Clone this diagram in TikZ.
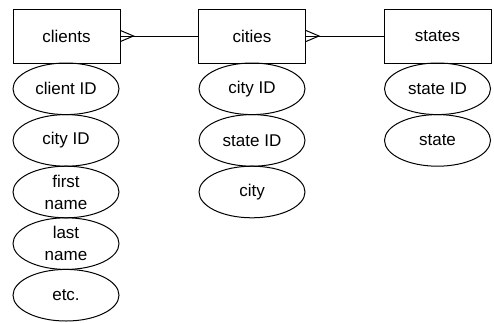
\documentclass[tikz,border=0pt]{standalone}
\usepackage{fontspec}
\setmainfont{Liberation Sans}
\usetikzlibrary{shapes.geometric}
\begin{document}
\begin{tikzpicture}[x=1pt,y=-1pt, line width=1pt,
 entity/.style={draw, minimum width=107pt, minimum height=54pt, inner sep=0pt, font=\fontsize{17}{22}\selectfont},
 attr/.style={draw, ellipse, minimum width=106pt, minimum height=51.6pt, inner sep=0pt, align=center, font=\fontsize{17}{22}\selectfont},
 link/.style={draw, line width=1pt}]
\useasboundingbox (0,0) rectangle (494,322);
% entities
\node[entity] (clients) at (66.5,36) {clients};
\node[entity] (cities) at (252,36) {cities};
\node[entity] (states) at (437.5,36) {states};
% clients attributes
\node[attr] (cl1) at (66,88.8) {client ID};
\node[attr] (cl2) at (66,140.4) {city ID};
\node[attr] (cl3) at (66,192) {first\\name};
\node[attr] (cl4) at (66,243.6) {last\\name};
\node[attr] (cl5) at (66,295.2) {etc.};
% cities attributes
\node[attr] (ci1) at (252,88.8) {city ID};
\node[attr] (ci2) at (252,140.4) {state ID};
\node[attr] (ci3) at (252,192) {city};
% states attributes
\node[attr] (st1) at (437.5,88.8) {state ID};
\node[attr] (st2) at (437.5,140.4) {state};
% relationships with crow's feet
\coordinate (cfa) at ([xshift=13pt]clients.east);
\coordinate (cfb) at ([xshift=13pt]cities.east);
\path[link] (clients.east) -- (cities.west);
\path[link] ([yshift=5.5pt]clients.east) -- (cfa) -- ([yshift=-5.5pt]clients.east);
\path[link] (cities.east) -- (states.west);
\path[link] ([yshift=5.5pt]cities.east) -- (cfb) -- ([yshift=-5.5pt]cities.east);
\end{tikzpicture}
\end{document}
